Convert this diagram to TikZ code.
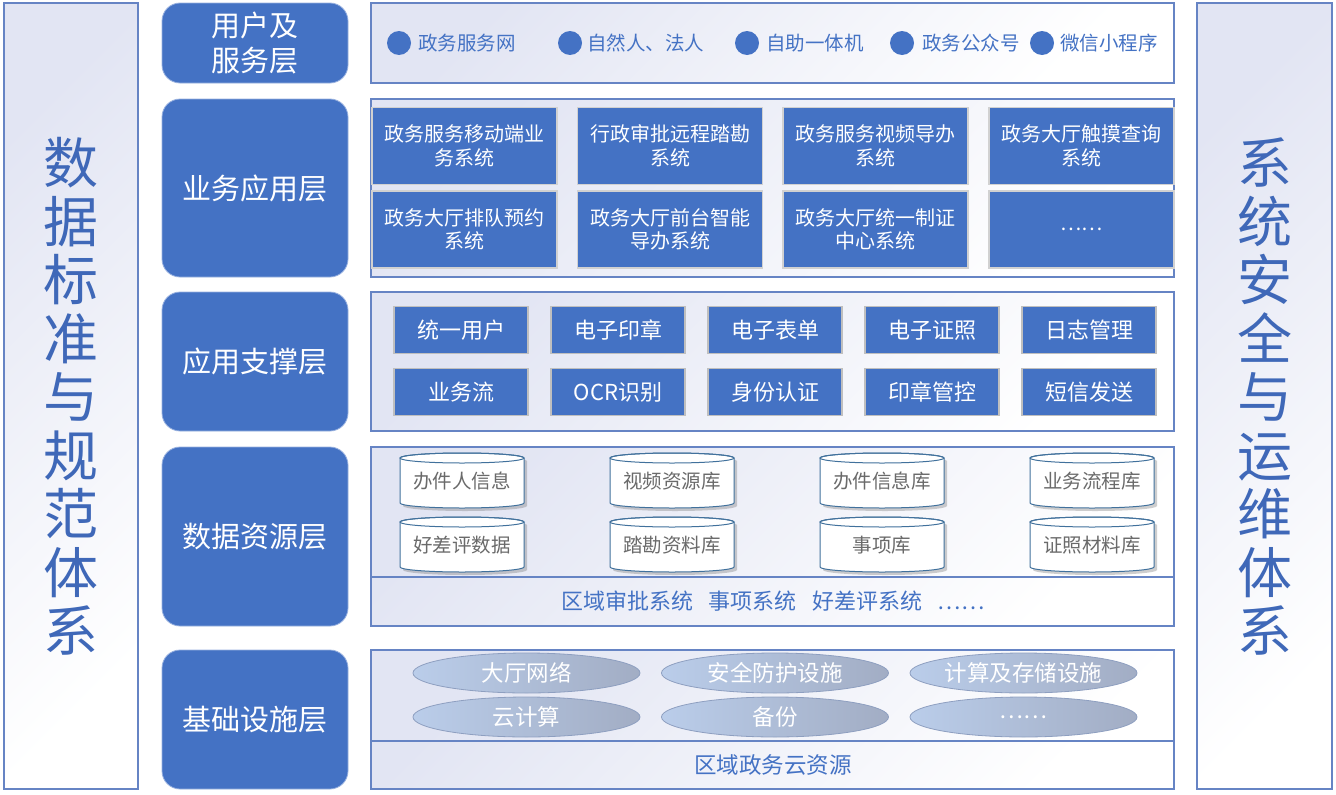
\documentclass[tikz,border=0pt]{standalone}
\usepackage{fontspec}
\newfontfamily\cjk{Noto Sans CJK SC}
\usetikzlibrary{shapes.geometric,shadows}
\definecolor{mblue}{HTML}{4472C4}
\definecolor{pborder}{HTML}{6684C4}
\definecolor{plav}{HTML}{E2E5F3}
\definecolor{cylborder}{HTML}{41719C}
\definecolor{cyltext}{HTML}{6A6A6A}
\definecolor{ellA}{HTML}{BACDEA}
\definecolor{ellB}{HTML}{A2ADC4}
\definecolor{ellborder}{HTML}{8E9FC0}
\definecolor{vtext}{HTML}{3F68B8}
\newcommand\mycyl[4]{%
  \path[draw=cylborder, fill=white, line width=1pt,
        drop shadow={shadow xshift=3pt, shadow yshift=-3pt, opacity=0.35, fill=black!55}]
    ({#2-62},{#3+5}) -- ({#2-62},{#3+50})
    arc[start angle=180, end angle=360, x radius=62pt, y radius=5pt]
    -- ({#2+62},{#3+5})
    arc[start angle=0, end angle=180, x radius=62pt, y radius=5pt] -- cycle;
  \draw[cylborder, line width=1pt] (#2,{#3+5}) ellipse[x radius=62pt, y radius=5pt];
  \node[cyl] (#1) at (#2,{#3+28}) {#4};
}
\begin{document}
\begin{tikzpicture}[x=1pt, y=-1pt,
  every node/.style={inner sep=0pt, outer sep=0pt},
  panel/.style={draw=pborder, line width=1.2pt, top color=plav, bottom color=white, shading angle=45},
  lay/.style={rectangle, rounded corners=18pt, fill=mblue, draw=mblue!55!white, line width=0.8pt,
              text=white, align=center, font=\cjk\fontsize{29}{35}\selectfont, minimum width=186pt},
  biz/.style={rectangle, fill=mblue, draw=black!18, line width=1.2pt, text=white, align=center,
              font=\cjk\fontsize{20}{23.5}\selectfont, minimum width=185pt, minimum height=77pt},
  sup/.style={rectangle, fill=mblue, draw=black!25, line width=1.2pt, text=white,
              font=\cjk\fontsize{22}{26}\selectfont, minimum width=134pt, minimum height=47pt},
  ell/.style={ellipse, left color=ellA, right color=ellB, draw=ellborder, line width=0.8pt,
              minimum width=227pt, minimum height=40pt, text=white, font=\cjk\fontsize{22.5}{26}\selectfont},
  cyl/.style={text=cyltext, font=\cjk\fontsize{19.5}{23}\selectfont},
  dot/.style={circle, fill=mblue, minimum size=24pt},
  toptext/.style={anchor=west, text=mblue, font=\cjk\fontsize{19.5}{23}\selectfont},
  bluetext/.style={text=mblue, font=\cjk\fontsize{22.5}{26}\selectfont},
  vert/.style={text=vtext, align=center, font=\cjk\fontsize{55}{58.5}\selectfont}
]
\useasboundingbox (0,0) rectangle (1336,795);

% side panels
\path[panel] (4,3) rectangle (138,789);
\path[panel] (1197,3) rectangle (1332,789);
\node[vert] (leftv) at (71,396.5) {数\\据\\标\\准\\与\\规\\范\\体\\系};
\node[vert] (rightv) at (1265,396.5) {系\\统\\安\\全\\与\\运\\维\\体\\系};

% layer labels
\node[lay, minimum height=80pt] (L1) at (255,43) {用户及\\服务层};
\node[lay, minimum height=178pt] (L2) at (255,188) {业务应用层};
\node[lay, minimum height=139pt] (L3) at (255,361.5) {应用支撑层};
\node[lay, minimum height=179pt] (L4) at (255,536.5) {数据资源层};
\node[lay, minimum height=139pt] (L5) at (255,719.5) {基础设施层};

% content panels
\path[panel] (371,3) rectangle (1174,83);
\path[panel] (371,99) rectangle (1174,277);
\path[panel] (371,292) rectangle (1174,431);
\path[panel] (371,447) rectangle (1174,626);
\draw[pborder, line width=1.2pt] (371,577) -- (1174,577);
\path[panel] (371,650) rectangle (1174,789);
\draw[pborder, line width=1.2pt] (371,741) -- (1174,741);

% top row
\node[dot] (d1) at (399,43) {};
\node[toptext] (t1) at (418,43) {政务服务网};
\node[dot] (d2) at (570,43) {};
\node[toptext] (t2) at (587,43) {自然人、法人};
\node[dot] (d3) at (747,43) {};
\node[toptext] (t3) at (766,43) {自助一体机};
\node[dot] (d4) at (902,43) {};
\node[toptext] (t4) at (922,43) {政务公众号};
\node[dot] (d5) at (1042,43) {};
\node[toptext] (t5) at (1060,43) {微信小程序};

% business applications
\node[biz] (b1) at (464.5,146) {政务服务移动端业\\务系统};
\node[biz] (b2) at (670,146) {行政审批远程踏勘\\系统};
\node[biz] (b3) at (875.5,146) {政务服务视频导办\\系统};
\node[biz] (b4) at (1081.5,146) {政务大厅触摸查询\\系统};
\node[biz] (b5) at (464.5,229.5) {政务大厅排队预约\\系统};
\node[biz] (b6) at (670,229.5) {政务大厅前台智能\\导办系统};
\node[biz] (b7) at (875.5,229.5) {政务大厅统一制证\\中心系统};
\node[biz] (b8) at (1081.5,229.5) {……};

% support
\node[sup] (s1) at (461,330) {统一用户};
\node[sup] (s2) at (618,330) {电子印章};
\node[sup] (s3) at (775,330) {电子表单};
\node[sup] (s4) at (932,330) {电子证照};
\node[sup] (s5) at (1089,330) {日志管理};
\node[sup] (s6) at (461,392) {业务流};
\node[sup] (s7) at (618,392) {OCR识别};
\node[sup] (s8) at (775,392) {身份认证};
\node[sup] (s9) at (932,392) {印章管控};
\node[sup] (s10) at (1089,392) {短信发送};

% data resources
\mycyl{c1}{462}{453}{办件人信息}
\mycyl{c2}{672}{453}{视频资源库}
\mycyl{c3}{882}{453}{办件信息库}
\mycyl{c4}{1092}{453}{业务流程库}
\mycyl{c5}{462}{517}{好差评数据}
\mycyl{c6}{672}{517}{踏勘资料库}
\mycyl{c7}{882}{517}{事项库}
\mycyl{c8}{1092}{517}{证照材料库}
\node[bluetext, font=\cjk\fontsize{22}{26}\selectfont] (dsys) at (773,601)
  {区域审批系统\hspace{0.7em}事项系统\hspace{0.7em}好差评系统\hspace{0.7em}……};

% infrastructure
\node[ell] (e1) at (526.5,673) {大厅网络};
\node[ell] (e2) at (775,673) {安全防护设施};
\node[ell] (e3) at (1023.5,673) {计算及存储设施};
\node[ell] (e4) at (526.5,717) {云计算};
\node[ell] (e5) at (775,717) {备份};
\node[ell] (e6) at (1023.5,717) {……};
\node[bluetext] (cloud) at (773,765) {区域政务云资源};
\end{tikzpicture}
\end{document}
